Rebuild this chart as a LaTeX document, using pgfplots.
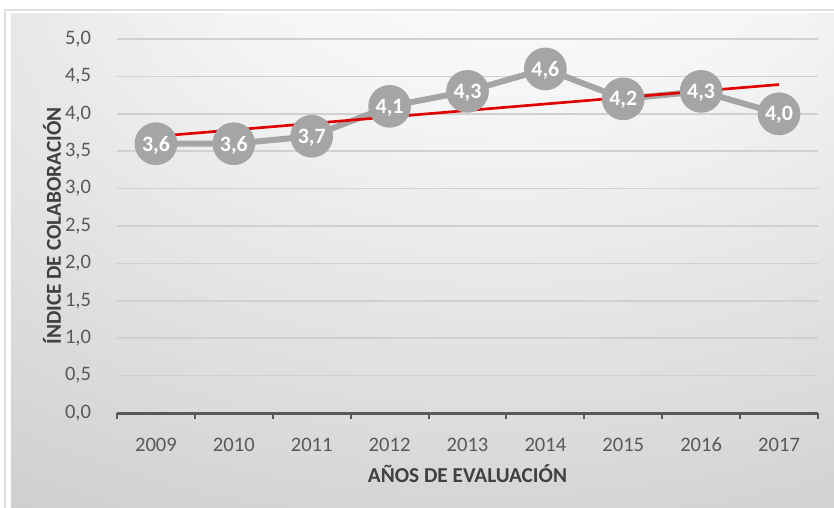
\documentclass[border=0pt]{standalone}
\usepackage{fontspec}
\setmainfont{Carlito}
\usepackage{pgfplots}
\pgfplotsset{compat=1.18}
\usetikzlibrary{backgrounds}

\definecolor{txt}{HTML}{595959}
\definecolor{ttl}{HTML}{404040}
\definecolor{ser}{HTML}{A5A5A5}
\definecolor{grd}{HTML}{D0D0D0}
\definecolor{trend}{HTML}{E00000}
\pgfdeclareradialshading{chartbg}{\pgfpoint{7bp}{40bp}}{%
  color(0bp)=(white); color(18bp)=(white!96!black);
  color(55bp)=(white!80!black); color(100bp)=(white!74!black)}

\pgfkeys{/pgf/number format/.cd, use comma, fixed, fixed zerofill, precision=1, assume math mode=true}

\begin{document}
\begin{tikzpicture}
\begin{axis}[
    name=ax, at={(0,0)}, anchor=south west,
    scale only axis, width=525.75bp, height=280.5bp,
    xmin=-0.5, xmax=8.5, ymin=0, ymax=5,
    clip=false,
    axis line style={draw=none},
    xtick={0,...,8},
    xticklabels={2009,2010,2011,2012,2013,2014,2015,2016,2017},
    minor xtick={-0.5,0.5,...,8.5},
    major x tick style={draw=none},
    minor tick length=4.5bp,
    minor x tick style={txt, line width=1.5bp},
    tick align=outside, xtick pos=bottom, ytick pos=left,
    ytick={0,0.5,...,5},
    ytick style={draw=none},
    ymajorgrids, grid style={grd, line width=1.1bp},
    ticklabel style={txt, font=\fontsize{15.5}{19}\selectfont},
    yticklabel style={anchor=east, inner sep=0pt, xshift=-15bp},
    xticklabel style={anchor=base, inner sep=0pt, yshift=-24.75bp},
    xlabel={AÑOS DE EVALUACIÓN},
    ylabel={ÍNDICE DE COLABORACIÓN},
    every axis x label/.style={at={(axis description cs:0.5,0)}, anchor=base,
        yshift=-51.75bp, inner sep=0pt, ttl, font=\bfseries\fontsize{16}{19}\selectfont},
    every axis y label/.style={at={(axis description cs:-0.08,0.5)}, rotate=90, anchor=base,
        inner sep=0pt, ttl, font=\bfseries\fontsize{16}{19}\selectfont},
]
\addplot[ser, line width=4.5bp, mark=*, mark size=13.75bp,
    mark options={fill=ser, draw=none},
    nodes near coords={\pgfmathprintnumber{\pgfplotspointmeta}},
    nodes near coords align=center,
    every node near coord/.append style={anchor=center, white, inner sep=0pt, yshift=-1bp,
        font=\bfseries\fontsize{16.5}{19}\selectfont}]
coordinates {(0,3.6)(1,3.6)(2,3.7)(3,4.1)(4,4.3)(5,4.6)(6,4.2)(7,4.3)(8,4.0)};
\addplot[trend, line width=2bp] coordinates {(0,3.698)(8,4.391)};
\draw[txt, line width=2.25bp] (axis cs:-0.5,0) -- (axis cs:8.5,0);
\end{axis}
\begin{scope}[on background layer]
\fill[white] (-87.75bp,-71.25bp) rectangle (537.75bp,309.75bp);
\draw[black!12, line width=1bp] (-84bp,-71.25bp) -- (-84bp,302.25bp) -- (537.75bp,302.25bp);
\shade[shading=chartbg] (-79.5bp,-71.25bp) rectangle (537.75bp,299.25bp);
\end{scope}
\pgfresetboundingbox
\path[use as bounding box] (-87.75bp,-71.25bp) rectangle (537.75bp,309.75bp);
\end{tikzpicture}
\end{document}
